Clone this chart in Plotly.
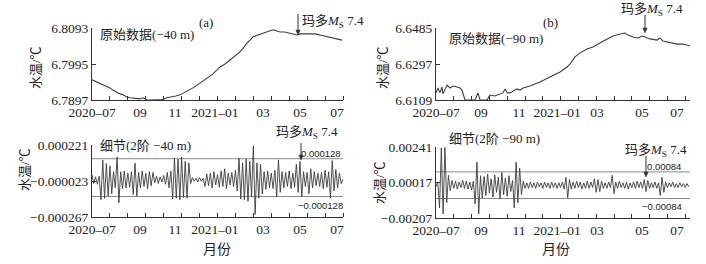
import numpy as np
import plotly.graph_objects as go

W, H = 706, 264

# ---------------- data (x in months after 2020-07, axis shows 14 monthly tick intervals) -------------
raw_a_t = [0, 0.28, 0.45, 0.73, 1.00, 1.17, 1.45, 1.73, 1.95, 2.12, 2.40, 2.68, 2.84, 3.07, 3.35, 3.63,
           3.90, 4.18, 4.46, 4.68, 4.91, 5.24, 5.63, 6.02, 6.41, 6.75, 7.14, 7.42, 7.70, 7.98, 8.25, 8.48,
           8.64, 8.81, 8.98, 9.26, 9.54, 9.82, 10.09, 10.32, 10.49, 10.76, 11.04, 11.27, 11.43, 11.60,
           11.77, 11.99, 12.27, 12.49, 12.72, 13.00, 13.27, 13.55, 13.72, 13.94]
raw_a_v = [6.7952, 6.7946, 6.7943, 6.7935, 6.7930, 6.7924, 6.7916, 6.7911, 6.7905, 6.7903, 6.7901,
           6.7900, 6.7903, 6.7897, 6.7897, 6.7897, 6.7898, 6.7903, 6.7905, 6.7908, 6.7911, 6.7919,
           6.7930, 6.7943, 6.7957, 6.7968, 6.7987, 6.7995, 6.8006, 6.8017, 6.8028, 6.8041, 6.8052,
           6.8060, 6.8069, 6.8074, 6.8079, 6.8082, 6.8088, 6.8085, 6.8082, 6.8082, 6.8079, 6.8077,
           6.8074, 6.8077, 6.8077, 6.8079, 6.8077, 6.8077, 6.8074, 6.8071, 6.8069, 6.8066, 6.8063,
           6.8060]

raw_b_t = [0, 0.11, 0.22, 0.34, 0.39, 0.62, 0.79, 0.96, 1.18, 1.35, 1.46, 1.63, 1.91, 2.19, 2.36, 2.47,
           2.87, 3.03, 3.31, 3.76, 3.88, 4.00, 4.16, 4.55, 4.72, 4.89, 5.28, 5.84, 6.40, 6.97, 7.36, 7.53,
           7.81, 8.09, 8.48, 8.82, 9.21, 9.61, 9.94, 10.34, 10.62, 10.79, 11.07, 11.35, 11.57, 11.74,
           12.02, 12.42, 12.58, 12.75, 13.15, 13.54, 13.88, 14.27]
raw_b_v = [6.6146, 6.6172, 6.6146, 6.6177, 6.6141, 6.6187, 6.6172, 6.6182, 6.6177, 6.6172, 6.6161,
           6.6109, 6.6109, 6.6109, 6.6146, 6.6109, 6.6109, 6.6135, 6.6130, 6.6146, 6.6167, 6.6146,
           6.6146, 6.6167, 6.6161, 6.6172, 6.6182, 6.6203, 6.6229, 6.6255, 6.6281, 6.6297, 6.6334,
           6.6355, 6.6375, 6.6386, 6.6407, 6.6428, 6.6443, 6.6454, 6.6459, 6.6448, 6.6438, 6.6433,
           6.6443, 6.6438, 6.6428, 6.6422, 6.6433, 6.6417, 6.6407, 6.6401, 6.6401, 6.6391]

# detail (2nd-order) series, sampled every 0.1 month; units 1e-6 C (a) and 1e-5 C (b)
detail_a = [20, -40, 5, -45, 10, -150, 120, -140, 95, -125, 80, -110, 40, -70, 140, -170, 40, -75, 45,
            -70, 30, -65, 40, -115, 97, -125, 35, -70, 45, -60, 30, -75, 40, -55, 35, -35, 10, -40, 5,
            -30, 15, -45, 35, -70, 45, -145, 130, -140, 125, -150, 140, -135, 110, -140, 100, -40, 0,
            -25, -5, -30, 0, -25, -5, -60, 25, -55, 30, -70, 40, -50, 20, -65, 45, -60, 60, -75, 30,
            -50, 35, -60, 50, -90, 130, -145, 100, -150, 125, -160, 110, -130, 215, -250, 100, -140, 90,
            -110, 40, -80, 45, -70, 30, -75, 50, -130, 120, -100, 40, -70, 35, -60, 45, -75, 30, -65,
            90, -100, 110, -130, 40, -60, 35, -110, 60, -70, 40, -55, 30, -60, 35, -75, 50, -65, 40,
            -140, 115, -90, 55, -70, 30, -40, -10]
detail_b = [-10, 20, -143, 235, -181, 238, -111, 62, -34, 30, -20, 25, -25, 20, -15, 30, -20, 25, -25,
            20, -30, 25, -117, 145, -181, 60, -80, 55, -65, 70, -50, 40, -75, 65, -45, 50, -85, 80, -60,
            45, -70, 60, -40, 30, -143, 145, -111, 107, -60, 25, -20, 15, -20, 20, -15, 15, -20, 20, -10,
            15, -20, 20, -15, 15, -20, 20, -15, 15, -20, 15, -15, 20, -25, 49, -79, 35, -25, 20, -20, 25,
            -15, 20, -25, 15, -20, 25, -20, 20, -15, 40, -45, 35, -40, 25, -20, 15, -20, 20, -15, 62, -53,
            20, -20, 25, -15, 15, -20, 20, -25, 15, -15, 20, -20, 25, -15, 20, -20, 35, -40, 30, -20, 15,
            -15, 20, -20, 15, -65, 50, -45, 20, -15, 15, -10, 20, -15, 10, -15, 15, -10, 10, -15, 10, -10]

thr_a = 0.000128
thr_b = 0.00084

xtick_text = ["2020–07", "09", "11", "2021–01", "03", "05", "07"]
xtick_pos_a = [0, 2.68, 4.63, 6.86, 9.54, 11.6, 13.66]
xtick_pos_b = [0, 2.53, 4.66, 6.8, 9.04, 11.57, 13.54]

ytick_a_top = [6.7897, 6.7995, 6.8093]
ytick_b_top = [6.6109, 6.6297, 6.6485]
ytick_a_bot = [-0.000267, -0.000023, 0.000221]
ytick_b_bot = [-0.00207, 0.00017, 0.00241]
ytxt_a_top = ["6.7897", "6.7995", "6.8093"]
ytxt_b_top = ["6.6109", "6.6297", "6.6485"]
ytxt_a_bot = ["−0.000267", "−0.000023", "0.000221"]
ytxt_b_bot = ["−0.00207", "0.00017", "0.00241"]

# ---------------- figure ----------------
SERIF = "Liberation Serif, Noto Sans CJK SC, serif"
SANS = "Liberation Sans, Arial, sans-serif"
LINE = "#3c3c3c"
AX = "#333333"

da = np.array(detail_a) * 1e-6
db = np.array(detail_b) * 1e-5
ta = np.arange(len(da)) * 0.1
tb = np.arange(len(db)) * 0.1

fig = go.Figure()
fig.add_trace(go.Scatter(x=raw_a_t, y=raw_a_v, mode="lines", line=dict(color=LINE, width=1.1),
                         xaxis="x", yaxis="y", showlegend=False))
fig.add_trace(go.Scatter(x=raw_b_t, y=raw_b_v, mode="lines", line=dict(color=LINE, width=1.1),
                         xaxis="x2", yaxis="y2", showlegend=False))
fig.add_trace(go.Scatter(x=ta, y=da, mode="lines", line=dict(color=LINE, width=0.9),
                         xaxis="x3", yaxis="y3", showlegend=False))
fig.add_trace(go.Scatter(x=tb, y=db, mode="lines", line=dict(color=LINE, width=0.9),
                         xaxis="x4", yaxis="y4", showlegend=False))


def px(x):
    return x / W


def py(y):
    return 1 - y / H


def xaxis(x0, x1, rng, pos, anchor):
    return dict(domain=[px(x0), px(x1)], anchor=anchor, range=rng, showgrid=False, zeroline=False,
                automargin=False,
                showline=True, linecolor=AX, linewidth=1, ticks="", tickmode="array", tickvals=pos,
                ticktext=xtick_text, tickfont=dict(family=SERIF, size=13.5, color="#222"),
                minor=dict(tickmode="array", tickvals=list(range(1, 15)), ticks="inside", ticklen=4,
                           tickcolor=AX, tickwidth=1, showgrid=False))


def yaxis(ytop, ybot, rng, vals, txt, anchor):
    return dict(domain=[py(ybot), py(ytop)], anchor=anchor, range=rng, showgrid=False, zeroline=False,
                automargin=False,
                showline=True, linecolor=AX, linewidth=1, ticks="inside", ticklen=4, tickcolor=AX,
                tickmode="array", tickvals=vals, ticktext=txt,
                tickfont=dict(family=SERIF, size=13.5, color="#222"))


fig.update_layout(
    width=W, height=H, margin=dict(l=0, r=0, t=0, b=0, pad=0, autoexpand=False),
    paper_bgcolor="white", plot_bgcolor="white",
    xaxis=xaxis(92, 343, [0, 14], xtick_pos_a, "y"),
    yaxis=yaxis(28, 100, [6.7897, 6.8093], ytick_a_top, ytxt_a_top, "x"),
    xaxis2=xaxis(436, 690, [0, 14.27], xtick_pos_b, "y2"),
    yaxis2=yaxis(28, 100, [6.6109, 6.6485], ytick_b_top, ytxt_b_top, "x2"),
    xaxis3=xaxis(92, 343, [0, 14], xtick_pos_a, "y3"),
    yaxis3=yaxis(145, 217, [-0.000267, 0.000221], ytick_a_bot, ytxt_a_bot, "x3"),
    xaxis4=xaxis(436, 690, [0, 14.27], xtick_pos_b, "y4"),
    yaxis4=yaxis(147, 218, [-0.00207, 0.00241], ytick_b_bot, ytxt_b_bot, "x4"),
)

# threshold lines
for xr, yr, thr in [("x3 domain", "y3", thr_a), ("x4 domain", "y4", thr_b)]:
    for s in (1, -1):
        fig.add_shape(type="line", xref=xr, yref=yr, x0=0, x1=1, y0=s * thr, y1=s * thr,
                      line=dict(color="#8a8a8a", width=1), layer="below")

ann = []


def text(x, y, t, size=13, family=SERIF, xanchor="left", angle=0):
    ann.append(dict(x=px(x), y=py(y), xref="paper", yref="paper", text=t, showarrow=False,
                    xanchor=xanchor, yanchor="middle", textangle=angle,
                    font=dict(family=family, size=size, color="#222")))


def arrow(x, ytail, ytip):
    # shaft + filled head drawn as shapes (paper coordinates)
    fig.add_shape(type="line", xref="paper", yref="paper", x0=px(x), x1=px(x),
                  y0=py(ytail), y1=py(ytip - 4), line=dict(color="#333", width=1))
    fig.add_shape(type="path", xref="paper", yref="paper",
                  path=f"M {px(x - 2.2)},{py(ytip - 5)} L {px(x + 2.2)},{py(ytip - 5)} L {px(x)},{py(ytip)} Z",
                  fillcolor="#333", line=dict(color="#333", width=0.5))


MS = "玛多<i>M</i><sub>S</sub> 7.4"
# top a
text(206, 22, "(a)", xanchor="center")
text(98, 34, "原始数据(−40 m)")
text(300, 21, MS)
arrow(298, 14, 35)
text(35, 68, "水温/℃", angle=-90, xanchor="center")
# top b
text(550, 22, "(b)", xanchor="center")
text(447, 39, "原始数据(−90 m)")
text(619, 10, MS)
arrow(645, 15, 33)
text(382, 68, "水温/℃", angle=-90, xanchor="center")
# bottom a
text(98, 145, "细节(2阶 −40 m)")
text(274, 132, MS)
arrow(301, 143, 160)
text(343, 153.5, "0.000128", size=9.5, family=SANS, xanchor="right")
text(345, 205.5, "−0.000128", size=9.5, family=SANS, xanchor="right")
text(24, 170, "水温/℃", angle=-90, xanchor="center")
text(217, 249, "月份", size=14, xanchor="center")
# bottom b
text(447, 138, "细节(2阶 −90 m)")
text(623, 150, MS)
arrow(646, 156, 177)
text(683, 166, "0.00084", size=9.5, family=SANS, xanchor="right")
text(684, 206, "−0.00084", size=9.5, family=SANS, xanchor="right")
text(379, 183, "水温/℃", angle=-90, xanchor="center")
text(556, 249, "月份", size=14, xanchor="center")

fig.update_layout(annotations=ann)
fig.write_html("out.html", config={"displayModeBar": False},
               post_script="document.body.style.margin='0';document.body.style.overflow='hidden';")
